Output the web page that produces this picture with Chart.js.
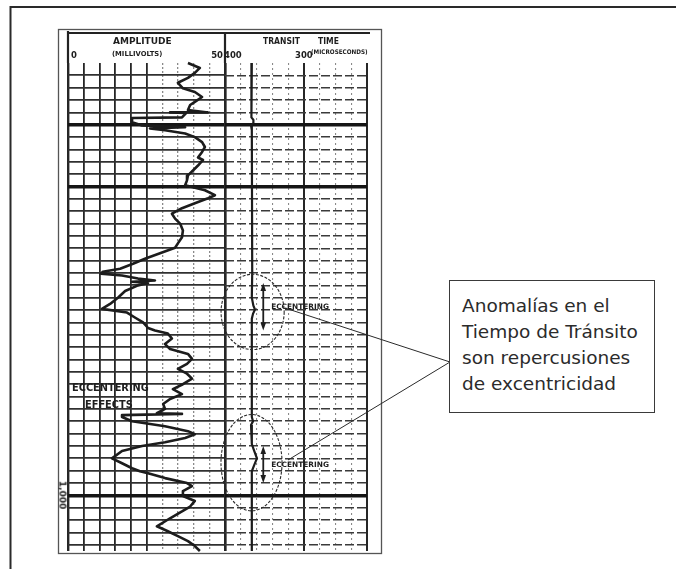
<!DOCTYPE html>
<html>
<head>
<meta charset="utf-8">
<script src="https://cdn.jsdelivr.net/npm/chart.js@4/dist/chart.umd.min.js"></script>
<style>
  html, body { margin: 0; padding: 0; background: #fff; }
  #page { position: relative; width: 676px; height: 569px; overflow: hidden; background: #fff;
          font-family: "DejaVu Sans", Verdana, sans-serif; }
  .layer { position: absolute; left: 0; top: 0; }
  .log { filter: blur(0.5px); }
  .hdr { position: absolute; font-family: "DejaVu Sans", sans-serif; font-weight: bold;
         color: #1e1e1e; white-space: nowrap; line-height: 1; }
  #callout { position: absolute; left: 449px; top: 280px; width: 206px; height: 133px;
             box-sizing: border-box; border: 1px solid #3a3a3a; background: #fff;
             padding: 12px 0 0 12px; font-size: 18.5px; line-height: 26px; color: #2b2b2b; }
  svg { position: absolute; left: 0; top: 0; pointer-events: none; }
</style>
</head>
<body>
<div id="page">
  <svg width="676" height="569" class="layer">
    <!-- page frame -->
    <path d="M10.5 569 V7 H676" fill="none" stroke="#2a2a2a" stroke-width="2"/>
    <!-- log sheet -->
    <rect x="58.5" y="29.5" width="323" height="524" fill="none" stroke="#555" stroke-width="1.3"/>
  </svg>
  <svg width="676" height="569" class="layer log">
    <path d="M68 31 V63 M68 33 H370 M225 33 V63" fill="none" stroke="#222" stroke-width="2.2"/>
  </svg>
  <canvas id="ampTrack" class="layer log" width="676" height="569"></canvas>
  <canvas id="ttTrack" class="layer log" width="676" height="569"></canvas>
  <div id="labels" class="layer log"></div>
  <svg width="676" height="569" class="layer">
    <path d="M285 308 L450 362 M288 460 L450 362" fill="none" stroke="#2a2a2a" stroke-width="1"/>
  </svg>
  <div id="callout">Anomalías en el<br>Tiempo de Tránsito<br>son repercusiones<br>de excentricidad</div>
</div>

<script>
// Cement bond log: amplitude (mV) and transit time (µs) against depth (ft)
const ampDepthFt = [
  930.0, 930.8, 931.6, 932.4, 933.2, 934.1, 934.7, 935.5, 936.3, 936.8,
  937.6, 938.0, 938.0, 938.1, 938.8, 938.9, 939.6, 940.1, 940.4, 940.6,
  940.9, 941.4, 942.0, 942.8, 943.6, 944.4, 945.3, 945.7, 946.6, 947.4,
  948.2, 949.0, 949.8, 950.6, 951.4, 951.9, 952.7, 953.5, 954.4, 955.2,
  956.0, 957.1, 958.2, 959.2, 959.9, 960.8, 961.7, 962.5, 963.3, 963.8,
  964.1, 964.4, 964.9, 965.2, 965.4, 965.6, 966.0, 966.9, 968.0, 969.0,
  969.8, 970.4, 971.2, 972.0, 972.9, 973.3, 973.8, 974.6, 975.5, 976.3,
  977.1, 977.9, 978.7, 979.5, 980.3, 981.1, 982.0, 982.8, 983.6, 984.4,
  985.2, 986.0, 986.7, 986.8, 987.0, 987.3, 988.0, 988.8, 989.6, 990.1,
  990.7, 991.4, 992.0, 992.8, 994.0, 994.8, 995.6, 996.1, 996.4, 997.2,
  998.0, 998.5, 999.3, 1000.1, 1000.9, 1001.8, 1002.6, 1003.7, 1005.0, 1005.8,
  1006.6, 1007.4, 1008.2, 1009.0
];
const amplitudeMv = [
  38.2, 42.0, 40.4, 38.2, 35.0, 36.6, 40.4, 42.7, 40.4, 38.9,
  38.2, 44.6, 32.5, 37.6, 36.3, 20.4, 20.4, 23.6, 37.3, 26.1,
  30.9, 37.3, 40.4, 42.7, 43.6, 42.7, 41.4, 43.0, 41.4, 39.8,
  38.2, 37.9, 37.3, 43.6, 46.8, 44.6, 40.4, 36.3, 33.1, 34.1,
  35.7, 36.6, 36.3, 35.0, 34.1, 29.3, 24.5, 20.7, 16.6, 11.1,
  10.5, 17.2, 22.3, 27.7, 20.4, 25.5, 22.3, 18.2, 15.9, 13.4,
  10.8, 18.8, 21.3, 23.9, 25.5, 27.7, 31.8, 33.1, 30.9, 32.5,
  38.2, 39.5, 37.9, 35.0, 37.9, 39.5, 36.6, 33.4, 36.3, 32.5,
  30.3, 30.9, 28.3, 36.3, 17.2, 17.2, 20.4, 30.9, 38.2, 40.4,
  37.3, 30.9, 23.6, 17.2, 14.0, 17.2, 20.4, 22.9, 25.5, 30.9,
  37.9, 39.5, 36.6, 36.6, 40.4, 38.9, 36.3, 32.5, 28.3, 31.8,
  35.0, 38.2, 40.4, 42.0
];
const ttDepthFt = [
  930.0, 937.6, 938.8, 939.2, 939.7, 940.1, 940.9, 964.0, 968.0, 969.3,
  969.9, 970.6, 971.4, 987.3, 988.0, 988.6, 989.3, 991.7, 992.8, 994.0,
  995.1, 996.1, 1009.0
];
const transitTimeUs = [
  366, 366, 367, 364, 364, 367, 366, 365.5, 366, 364,
  362, 364.5, 366, 366, 364.5, 367, 366, 366, 363, 359.5,
  363, 366, 366
];

// Depth window and grid
const depthTopFt = 930;
const depthBottomFt = 1009;
const depthGridFt = [];
for (let d = 932; d <= 1008; d += 2) depthGridFt.push(d);
const heavyDepthsFt = [940, 950, 1000];

// Track scales
const amplitudeGridMv = [0, 5, 10, 15, 20, 25, 30, 35, 40, 45, 50];
const transitGridUs = [400, 380, 360, 340, 320, 300, 280, 260, 240, 220];

// Header and depth labels
const amplitudeTitle = 'AMPLITUDE';
const amplitudeUnit = '(MILLIVOLTS)';
const amplitudeTickLabels = [{ v: 0, t: '0' }, { v: 50, t: '50' }];
const transitTitle = ['TRANSIT', 'TIME'];
const transitUnit = '(MICROSECONDS)';
const transitTickLabels = [{ v: 400, t: '400' }, { v: 300, t: '300' }];
const depthMark = { v: 1000, t: '1,000' };

// Eccentering zones on the transit-time track
const eccenteringZones = [
  { depthFt: 970.3, halfDepthFt: 6.1, timeUs: 365, halfTimeUs: 40,
    arrowUs: 351.5, arrowTopFt: 965.6, arrowBottomFt: 973.3, labelFt: 969.5 },
  { depthFt: 994.7, halfDepthFt: 7.8, timeUs: 366.4, halfTimeUs: 38.7,
    arrowUs: 351.5, arrowTopFt: 992.0, arrowBottomFt: 998.0, labelFt: 995.0 }
];
const zoneLabel = 'ECCENTERING';
const trackNote = ['ECCENTERING', 'EFFECTS'];

const W = 676, H = 569;
const area = { top: 63, bottom: 551 };

const depthAxis = {
  type: 'linear', reverse: true, min: depthTopFt, max: depthBottomFt,
  afterBuildTicks: s => { s.ticks = depthGridFt.map(v => ({ value: v })); },
};

const ampChart = new Chart(document.getElementById('ampTrack'), {
  type: 'scatter',
  data: {
    datasets: [{
      data: ampDepthFt.map((d, i) => ({ x: amplitudeMv[i], y: d })),
      showLine: true, borderColor: '#1c1c1c', borderWidth: 2.6,
      pointRadius: 0, tension: 0, borderJoinStyle: 'round', clip: 4
    }]
  },
  options: {
    responsive: false, animation: false, events: [],
    layout: { padding: { left: 68, right: W - 225, top: area.top, bottom: H - area.bottom } },
    plugins: { legend: { display: false }, tooltip: { enabled: false } },
    scales: {
      x: {
        type: 'linear', min: 0, max: 50,
        afterBuildTicks: s => { s.ticks = amplitudeGridMv.map(v => ({ value: v })); },
        ticks: { display: false },
        border: { display: false, dash: c => (c.tick && c.tick.value >= 30 && c.tick.value <= 45) ? [2, 2] : [] },
        grid: {
          drawTicks: false,
          color: c => (c.tick.value >= 30 && c.tick.value <= 45) ? '#8a8a8a' : '#262626',
          lineWidth: c => (c.tick.value === 0 || c.tick.value === 50) ? 2.4 : (c.tick.value >= 30 ? 1.3 : 1.8)
        }
      },
      y: Object.assign({}, depthAxis, {
        ticks: { display: false },
        border: { display: false },
        grid: {
          drawTicks: false,
          color: c => heavyDepthsFt.includes(c.tick.value) ? '#151515' : '#303030',
          lineWidth: c => heavyDepthsFt.includes(c.tick.value) ? 3.4 : 1.8
        }
      })
    }
  }
});

const zonePlugin = {
  id: 'eccenteringZones',
  afterDatasetsDraw(chart) {
    const { ctx, scales: { x, y } } = chart;
    ctx.save();
    eccenteringZones.forEach(z => {
      const cx = x.getPixelForValue(z.timeUs), cy = y.getPixelForValue(z.depthFt);
      const rx = Math.abs(x.getPixelForValue(z.timeUs - z.halfTimeUs) - cx);
      const ry = Math.abs(y.getPixelForValue(z.depthFt + z.halfDepthFt) - cy);
      ctx.beginPath();
      ctx.ellipse(cx, cy, rx, ry, 0, 0, Math.PI * 2);
      ctx.setLineDash([3, 1.5]);
      ctx.lineWidth = 1.1;
      ctx.strokeStyle = '#2a2a2a';
      ctx.stroke();
      ctx.setLineDash([]);
      const ax = x.getPixelForValue(z.arrowUs);
      const a1 = y.getPixelForValue(z.arrowTopFt), a2 = y.getPixelForValue(z.arrowBottomFt);
      ctx.lineWidth = 1.8;
      ctx.strokeStyle = '#1e1e1e';
      ctx.beginPath(); ctx.moveTo(ax, a1 + 5); ctx.lineTo(ax, a2 - 5); ctx.stroke();
      ctx.fillStyle = '#1e1e1e';
      ctx.beginPath(); ctx.moveTo(ax, a1); ctx.lineTo(ax - 2.8, a1 + 8); ctx.lineTo(ax + 2.8, a1 + 8); ctx.closePath(); ctx.fill();
      ctx.beginPath(); ctx.moveTo(ax, a2); ctx.lineTo(ax - 2.8, a2 - 8); ctx.lineTo(ax + 2.8, a2 - 8); ctx.closePath(); ctx.fill();
    });
    ctx.restore();
  }
};

const ttChart = new Chart(document.getElementById('ttTrack'), {
  type: 'scatter',
  data: {
    datasets: [{
      data: ttDepthFt.map((d, i) => ({ x: transitTimeUs[i], y: d })),
      showLine: true, borderColor: '#1c1c1c', borderWidth: 2.2,
      pointRadius: 0, tension: 0, clip: 4
    }]
  },
  options: {
    responsive: false, animation: false, events: [],
    layout: { padding: { left: 225, right: W - 367, top: area.top, bottom: H - area.bottom } },
    plugins: { legend: { display: false }, tooltip: { enabled: false } },
    scales: {
      x: {
        type: 'linear', min: 220, max: 400, reverse: true,
        afterBuildTicks: s => { s.ticks = transitGridUs.map(v => ({ value: v })); },
        ticks: { display: false },
        border: { display: false, dash: c => [400, 300, 220].includes(c.tick && c.tick.value) ? [] : [2, 3] },
        grid: {
          drawTicks: false,
          color: c => [400, 300, 220].includes(c.tick.value) ? '#262626' : '#8a8a8a',
          lineWidth: c => c.tick.value === 400 ? 2.4 : ([300, 220].includes(c.tick.value) ? 2 : 1.1)
        }
      },
      y: Object.assign({}, depthAxis, {
        ticks: { display: false },
        border: { display: false, dash: c => heavyDepthsFt.includes(c.tick && c.tick.value) ? [] : [9, 3] },
        grid: {
          drawTicks: false,
          color: c => heavyDepthsFt.includes(c.tick.value) ? '#151515' : '#3a3a3a',
          lineWidth: c => heavyDepthsFt.includes(c.tick.value) ? 3.4 : 1.6
        }
      })
    }
  },
  plugins: [zonePlugin]
});

// Header, depth and annotation text placed from the chart scales
const holder = document.getElementById('labels');
function addLabel(text, left, top, size, opts) {
  const el = document.createElement('div');
  el.className = 'hdr';
  el.textContent = text;
  el.style.fontSize = size + 'px';
  el.style.left = left + 'px';
  el.style.top = top + 'px';
  if (opts && opts.align === 'right') { el.style.transform = 'translateX(-100%)'; }
  if (opts && opts.align === 'center') { el.style.transform = 'translateX(-50%)'; }
  if (opts && opts.rotate) { el.style.transform = 'translate(-50%,-50%) rotate(90deg)'; }
  if (opts && opts.family) { el.style.fontFamily = opts.family; }
  holder.appendChild(el);
  return el;
}
const ax = ampChart.scales.x, ay = ampChart.scales.y;
const tx = ttChart.scales.x, ty = ttChart.scales.y;
const condensed = '"DejaVu Sans Condensed", "DejaVu Sans", sans-serif';

addLabel(amplitudeTitle, 113, 37, 9);
addLabel(amplitudeUnit, 112, 51, 6.8);
addLabel(amplitudeTickLabels[0].t, ax.getPixelForValue(amplitudeTickLabels[0].v) + 3, 51, 8.5);
addLabel(amplitudeTickLabels[1].t, ax.getPixelForValue(amplitudeTickLabels[1].v) - 2, 51, 8.5, { align: 'right' });
addLabel(transitTitle[0], 263, 37, 8.5, { family: condensed });
addLabel(transitTitle[1], 318, 37, 8.5, { family: condensed });
addLabel(transitTickLabels[0].t, tx.getPixelForValue(transitTickLabels[0].v) - 1, 51, 8.5);
addLabel(transitTickLabels[1].t, tx.getPixelForValue(transitTickLabels[1].v), 51, 8.5, { align: 'center' });
addLabel(transitUnit, 311, 49, 6.3, { family: condensed });
addLabel(depthMark.t, 62, ay.getPixelForValue(depthMark.v), 9, { rotate: true });

addLabel(trackNote[0], 72, 383, 9.8);
addLabel(trackNote[1], 85, 400, 9.8);
eccenteringZones.forEach(z => {
  addLabel(zoneLabel, tx.getPixelForValue(341.5), ty.getPixelForValue(z.labelFt) - 4, 7.4);
});
</script>
</body>
</html>
